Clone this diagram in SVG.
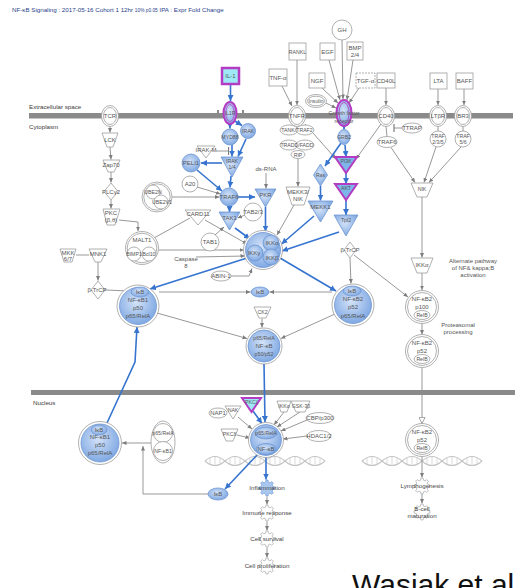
<svg xmlns="http://www.w3.org/2000/svg" width="518" height="588" viewBox="0 0 518 588">
<defs>
<style>
.t{font-family:"Liberation Sans",Arial,sans-serif;font-size:6px;fill:#555;text-anchor:middle}
.s{font-size:5.2px}
.lab{font-family:"Liberation Sans",Arial,sans-serif;font-size:6.2px;fill:#3a3a3a}
.fnt{font-family:"Liberation Sans",Arial,sans-serif;font-size:6.2px;fill:#444;text-anchor:middle}
.w{fill:#fff;stroke:#9d9d9d;stroke-width:.8}
.b{fill:url(#bg);stroke:#6f97d2;stroke-width:.8}
.m{stroke:#b43cc2;stroke-width:2}
.gl{fill:none;stroke:#8c8c8c;stroke-width:.9;marker-end:url(#ag)}
.gn{fill:none;stroke:#8c8c8c;stroke-width:.9}
.bl{fill:none;stroke:#3674cf;stroke-width:1.6;marker-end:url(#ab)}
.fn{fill:#fff;stroke:#a8a8a8;stroke-width:.7}
.fb{fill:#a9c6ef;stroke:#7aa0d8;stroke-width:.7}
.mem{fill:#8a8a8a}
.dna{fill:none;stroke:#c4c4c4;stroke-width:1.1}
</style>
<radialGradient id="bg" cx="45%" cy="40%" r="65%">
<stop offset="0" stop-color="#d3e2f8"/>
<stop offset="1" stop-color="#79a4e1"/>
</radialGradient>
<marker id="ag" viewBox="0 0 6 6" refX="6" refY="3" markerWidth="4.5" markerHeight="4.5" markerUnits="userSpaceOnUse" orient="auto"><path d="M0,0.3L6,3L0,5.7z" fill="#7d7d7d"/></marker>
<marker id="ab" viewBox="0 0 6 6" refX="6" refY="3" markerWidth="6" markerHeight="6" markerUnits="userSpaceOnUse" orient="auto"><path d="M0,0L6,3L0,6z" fill="#3674cf"/></marker>
<marker id="ao" viewBox="0 0 8 8" refX="7.5" refY="4" markerWidth="7" markerHeight="7" markerUnits="userSpaceOnUse" orient="auto"><path d="M0.5,0.5L7.5,4L0.5,7.5z" fill="#fff" stroke="#8c8c8c" stroke-width="0.9"/></marker>
<marker id="tb" viewBox="0 0 2 8" refX="1" refY="4" markerWidth="2" markerHeight="8" markerUnits="userSpaceOnUse" orient="auto"><path d="M1,0V8" stroke="#7d7d7d" stroke-width="1.2"/></marker>
<path id="gear" d="M5.82,-1.45 L7.92,-1.11 7.92,1.11 5.82,1.45 5.14,3.09 6.39,4.81 4.81,6.39 3.09,5.14 1.45,5.82 1.11,7.92 -1.11,7.92 -1.45,5.82 -3.09,5.14 -4.81,6.39 -6.39,4.81 -5.14,3.09 -5.82,1.45 -7.92,1.11 -7.92,-1.11 -5.82,-1.45 -5.14,-3.09 -6.39,-4.81 -4.81,-6.39 -3.09,-5.14 -1.45,-5.82 -1.11,-7.92 1.11,-7.92 1.45,-5.82 3.09,-5.14 4.81,-6.39 6.39,-4.81 5.14,-3.09 Z"/>
<g id="dna" class="dna">
<path d="M0,0 q10,-9 20,0 t20,0 t20,0 t20,0 t20,0 t20,0"/>
<path d="M0,0 q10,9 20,0 t20,0 t20,0 t20,0 t20,0 t20,0"/>
<path d="M5,-3.2v6.4M10,-4.5v9M15,-3.2v6.4M25,-3.2v6.4M30,-4.5v9M35,-3.2v6.4M45,-3.2v6.4M50,-4.5v9M55,-3.2v6.4M65,-3.2v6.4M70,-4.5v9M75,-3.2v6.4M85,-3.2v6.4M90,-4.5v9M95,-3.2v6.4M105,-3.2v6.4M110,-4.5v9M115,-3.2v6.4" stroke-width=".6"/>
</g>
</defs>

<rect width="518" height="588" fill="#fff"/>

<!-- title -->
<text x="12" y="12" font-family="Liberation Sans, Arial, sans-serif" font-size="6.2" fill="#2c3f8c">NF-κB Signaling : 2017-05-16 Cohort 1 12hr <tspan font-size="4.8">10% p0.05</tspan> IPA : Expr Fold Change</text>

<!-- membranes and compartment labels -->
<g id="membranes">
<rect class="mem" x="29" y="113" width="484" height="5.5"/>
<rect class="mem" x="217" y="110" width="2" height="3.5"/>
<rect class="mem" x="242" y="110" width="2" height="3.5"/>
<rect class="mem" x="31" y="390" width="484" height="5"/>
<text class="lab" x="29" y="109">Extracellular space</text>
<text class="lab" x="29" y="129">Cytoplasm</text>
<text class="lab" x="33" y="405">Nucleus</text>
</g>

<!-- DNA helices -->
<use href="#dna" transform="translate(205,461)"/>
<use href="#dna" transform="translate(362,461)"/>

<!-- connectors -->
<g id="connectors">
<!-- ligand to receptor -->
<path class="gl" d="M282,86L292,106"/>
<path class="gl" d="M297,60L297,105"/>
<path class="gl" d="M342,40L343,99"/>
<path class="gl" d="M329,60L340,100"/>
<path class="gl" d="M353,60L347,100"/>
<path class="gl" d="M322,88L338,103"/>
<path class="gl" d="M326,103L336,108"/>
<path class="gl" d="M359,88L349,103"/>
<path class="gl" d="M386,88L386,105"/>
<path class="gl" d="M438,89L438,105"/>
<path class="gl" d="M464,89L464,105"/>
<!-- TCR branch -->
<path class="gl" d="M110,126.5L110,132.5"/>
<path class="gl" d="M110,147L111,159.5"/>
<path class="gl" d="M111,172L111,182.5"/>
<path class="gl" d="M111,200L111,208.5"/>
<path class="gl" d="M119,220L138,222L138,231"/>
<path class="gn" d="M76,255L89,255"/>
<path class="gl" d="M98,262L98,280.5"/>
<path class="gl" d="M105,290L130,291"/>
<!-- TRAF6 / MALT1 region -->
<path class="gl" d="M172,197L219.5,197"/>
<path class="gl" d="M158,250L244,250"/>
<path class="gn" d="M190,218L154,238"/>
<path class="gl" d="M205,220L247,244"/>
<path class="gl" d="M197,187L220.5,194"/>
<path class="gl" d="M245,215L237.5,218"/>
<path class="gl" d="M215,235L224,227"/>
<path class="gl" d="M196,257L245,256"/>
<path class="gl" d="M231,276L249,276L252,268.5"/>
<path class="gl" d="M266,173L266,188.5"/>
<path class="gn" d="M216,151L228.5,151" marker-end="url(#tb)"/>
<!-- TNFR branch -->
<path class="gl" d="M298,159L298,186.5"/>
<path class="gl" d="M294,205L277,235"/>
<path class="gl" d="M305,124L336,159"/>
<!-- CD40 / alternate branch -->
<path class="gl" d="M381,124L356,159"/>
<path class="gn" d="M386,126.5L387,136.5"/>
<path class="gn" d="M402,128L394,128" marker-end="url(#tb)"/>
<path class="gn" d="M438,126.5L438,131"/>
<path class="gn" d="M463,126.5L463,131"/>
<path class="gl" d="M391,147.5L415,182.5"/>
<path class="gl" d="M436,147L424,182.5"/>
<path class="gl" d="M461,147L429,182.5"/>
<path class="gl" d="M422,197L422,257.5"/>
<path class="gl" d="M422,273L422,290"/>
<path class="gl" d="M354,255L408,297"/>
<path class="gl" d="M350,258L351,283.5"/>
<path class="gl" d="M422,323L422,334.5"/>
<path class="gn" d="M422,367.5L422,423.5" marker-end="url(#ao)"/>
<path class="gl" d="M422,456.5L422,477.5"/>
<path class="gl" d="M422,494L422,503.5"/>
<!-- cytoplasmic NF-kB complexes -->
<path class="gl" d="M159,292L250.5,292"/>
<path class="gl" d="M332,292L269.5,292"/>
<path class="gl" d="M157,313L247,338.5"/>
<path class="gl" d="M335,314L281,338.5"/>
<path class="gl" d="M262,318.5L262,327.5"/>
<!-- nuclear -->
<path class="gl" d="M238,417L252,429"/>
<path class="gl" d="M237,435L250,438"/>
<path class="gl" d="M284,412L274,425"/>
<path class="gl" d="M300,412L277,427"/>
<path class="gl" d="M307,420L281,431"/>
<path class="gl" d="M307,436L283,439"/>
<path class="gl" d="M267,496.5L267,504.5"/>
<path class="gl" d="M267,521.5L267,530.5"/>
<path class="gl" d="M267,547.5L267,557.5"/>
<path class="gl" d="M208,494L143,494L143,446"/>
<path class="gl" d="M151,443L122,443"/>
<!-- blue: IL-1 signalling -->
<path class="bl" d="M230.5,84L230.5,101"/>
<path class="bl" d="M230,124L230,128.5"/>
<path class="bl" d="M235,121L242,125.5"/>
<path class="bl" d="M232,145L232,156.5"/>
<path class="bl" d="M246,139L238,156.5"/>
<path class="bl" d="M222,163L201,163"/>
<path class="bl" d="M197,170L222,191"/>
<path class="bl" d="M231,176L230,187.5"/>
<path class="bl" d="M238,197L255,197"/>
<path class="bl" d="M229.5,206L229.5,212"/>
<path class="bl" d="M235,228L250,239"/>
<path class="bl" d="M265.5,207L265.5,231.5"/>
<!-- blue: growth factor signalling -->
<path class="bl" d="M344,126L344,129.5"/>
<path class="bl" d="M341,143L325,166"/>
<path class="bl" d="M320.5,186L320.5,200.5"/>
<path class="bl" d="M314,216L281.5,244"/>
<path class="bl" d="M345,145L346,157"/>
<path class="bl" d="M346,173L346,184"/>
<path class="bl" d="M346,200L346,215"/>
<path class="bl" d="M339,232L282,251"/>
<!-- blue: IKK to NF-kB -->
<path class="bl" d="M247,258L150,289"/>
<path class="bl" d="M280,258L336,291"/>
<path class="bl" d="M264,364L265,422"/>
<path class="bl" d="M253,411L262,423.5"/>
<path class="bl" d="M258,454L225,489"/>
<path class="bl" d="M266,456L266,479.5"/>
<path class="bl" d="M107,423L135,362L137,327"/>
</g>

<!-- extracellular ligands -->
<g id="IL-1"><rect x="222" y="68" width="17" height="16" fill="#9fe9f6" stroke="#b43cc2" stroke-width="2.5"/><text class="t" x="230.5" y="78">IL-1</text></g>
<g id="TNF-a"><rect class="w" x="269" y="69" width="18" height="17"/><text class="t" x="278" y="79.5">TNF-α</text></g>
<g id="RANKL"><rect class="w" x="289" y="43" width="17" height="17"/><text class="t s" x="297.5" y="53.5">RANKL</text></g>
<g id="EGF"><rect class="w" x="320" y="43" width="15" height="17"/><text class="t" x="327.5" y="53.5">EGF</text></g>
<g id="NGF"><rect class="w" x="309" y="73" width="16" height="15"/><text class="t" x="317" y="82.5">NGF</text></g>
<g id="GH"><circle class="w" cx="342" cy="30" r="10"/><text class="t" x="342" y="32">GH</text></g>
<g id="BMP"><rect class="w" x="347" y="42" width="16" height="18"/><text class="t" x="355" y="50">BMP</text><text class="t" x="355" y="57">2/4</text></g>
<g id="TGF-a"><rect class="w" x="356" y="73" width="19" height="15" stroke-dasharray="2 1"/><text class="t" x="365.5" y="82.5">TGF-α</text></g>
<g id="CD40L"><rect class="w" x="377" y="73" width="18" height="15"/><text class="t" x="386" y="82.5">CD40L</text></g>
<g id="LTA"><rect class="w" x="430" y="73" width="17" height="16"/><text class="t" x="438.5" y="83">LTA</text></g>
<g id="BAFF"><rect class="w" x="456" y="73" width="17" height="16"/><text class="t" x="464.5" y="83">BAFF</text></g>
<g id="Insulin"><ellipse class="w" cx="316" cy="101" rx="10.5" ry="6.5"/><ellipse class="w" cx="316" cy="101" rx="8.5" ry="4.8"/><text class="t s" x="316" y="103">Insulin</text></g>

<!-- membrane receptors -->
<g id="TCR"><ellipse class="w" cx="110" cy="116" rx="8.5" ry="10.5"/><ellipse class="w" cx="110" cy="116" rx="6.5" ry="8.5"/><text class="t" x="110" y="118">TCR</text></g>
<g id="IL1R"><ellipse class="b m" cx="230" cy="113" rx="6.5" ry="11"/><ellipse fill="none" stroke="#b43cc2" stroke-width=".8" cx="230" cy="113" rx="4.2" ry="8.5"/><text class="t s" x="230" y="115">IL1R</text></g>
<g id="TNFR"><ellipse class="w" cx="297" cy="116" rx="8.5" ry="10.5"/><ellipse class="w" cx="297" cy="116" rx="6.5" ry="8.5"/><text class="t" x="297" y="118">TNFR</text></g>
<g id="GFR"><ellipse class="b m" cx="344" cy="113" rx="7.5" ry="13"/><ellipse fill="none" stroke="#b43cc2" stroke-width=".8" cx="344" cy="113" rx="5" ry="10.5"/><text class="t s" x="344" y="115">Growth factor</text><text class="t s" x="344" y="123">receptor</text></g>
<g id="CD40"><ellipse class="w" cx="386" cy="116" rx="8.5" ry="10.5"/><ellipse class="w" cx="386" cy="116" rx="6.5" ry="8.5"/><text class="t" x="386" y="118">CD40</text></g>
<g id="LTbR"><ellipse class="w" cx="438" cy="116" rx="8.5" ry="10.5"/><ellipse class="w" cx="438" cy="116" rx="6.5" ry="8.5"/><text class="t" x="438" y="118">LTβR</text></g>
<g id="BR3"><ellipse class="w" cx="463" cy="116" rx="8.5" ry="10.5"/><ellipse class="w" cx="463" cy="116" rx="6.5" ry="8.5"/><text class="t" x="463" y="118">BR3</text></g>

<!-- TCR branch -->
<g id="LCK"><polygon class="w" points="102,133 118,133 113,147 107,147"/><text class="t" x="110" y="142">LCK</text></g>
<g id="Zap70"><polygon class="w" points="103,160 120,160 114,172 108,172"/><text class="t" x="111" y="167">Zap70</text></g>
<g id="PLCg2"><polygon class="w" points="111,183 118,191.5 111,200 104,191.5"/><text class="t" x="111" y="193.5">PLCγ2</text></g>
<g id="PKCbt"><polygon class="w" points="103,209 120,209 115,225 107,225"/><text class="t" x="111" y="215">PKC</text><text class="t" x="111" y="222">(β,θ)</text></g>
<g id="MALT1"><circle class="w" cx="142" cy="248" r="16.5"/><circle class="w" cx="142" cy="248" r="14.8"/><text class="t" x="142" y="242">MALT1</text><circle class="w" cx="134" cy="254" r="7"/><circle class="w" cx="149" cy="254" r="7"/><text class="t s" x="134" y="256">BIMP1</text><text class="t s" x="149" y="256">Bcl10</text></g>
<g id="UBE2N"><circle class="w" cx="157" cy="197" r="15"/><circle class="w" cx="157" cy="197" r="13.2"/><circle class="w" cx="153" cy="192" r="7"/><circle class="w" cx="161" cy="202" r="7"/><text class="t s" x="153" y="193.5">UBE2N</text><text class="t s" x="162" y="203.5">UBE2V1</text></g>
<g id="MKK"><polygon class="w" points="60,249 76,249 72,262 64,262"/><text class="t" x="68" y="255">MKK</text><text class="t" x="68" y="261">6/7</text></g>
<g id="MNK1"><polygon class="w" points="89,249 107,249 101,262 95,262"/><text class="t" x="98" y="256">MNK1</text></g>
<g id="bTrCP-L"><polygon class="w" points="98,281 105,290 98,299 91,290"/><text class="t" x="97" y="292">β-TrCP</text></g>

<!-- IL-1 branch -->
<g id="MYD88"><circle class="b" cx="230" cy="137" r="8"/><text class="t s" x="230" y="139">MYD88</text></g>
<g id="IRAK"><circle class="b" cx="248" cy="131" r="7.5"/><text class="t s" x="248" y="133">IRAK</text></g>
<g id="IRAK-M"><polygon class="w" points="197,146 215,146 206,158"/><text class="t" x="206" y="152">IRAK-M</text></g>
<g id="PELI1"><circle class="b" cx="191" cy="163" r="9"/><text class="t" x="191" y="165">PELI1</text></g>
<g id="IRAK14"><polygon class="b" points="221,157 243,157 232,177"/><text class="t s" x="232" y="163">IRAK</text><text class="t s" x="232" y="169">1/4</text></g>
<g id="A20"><circle class="w" cx="190" cy="184" r="8"/><text class="t" x="190" y="186">A20</text></g>
<g id="TRAF6"><circle class="b" cx="229" cy="197" r="9"/><text class="t" x="229" y="199">TRAF6</text></g>
<g id="PKR"><polygon class="b" points="255,189 276,189 265.5,207"/><text class="t" x="265.5" y="197">PKR</text></g>
<g id="ds-RNA"><text class="t" x="266" y="171">ds-RNA</text></g>
<g id="TAB23"><circle class="w" cx="253" cy="212" r="9"/><text class="t" x="253" y="214">TAB2/3</text></g>
<g id="TAK1"><polygon class="b" points="219,212 240,212 229.5,230"/><text class="t" x="229.5" y="219.5">TAK1</text></g>
<g id="CARD11"><polygon class="w" points="185,210 211,210 198,225"/><text class="t" x="198" y="215.5">CARD11</text></g>
<g id="TAB1"><circle class="w" cx="210" cy="242" r="9"/><text class="t" x="210" y="244">TAB1</text></g>
<g id="Caspase8"><text class="t" x="186" y="261">Caspase</text><text class="t" x="186" y="267.5">8</text></g>
<g id="ABIN-1"><ellipse class="w" cx="221" cy="276" rx="10" ry="5"/><text class="t" x="221" y="278">ABIN-1</text></g>
<g id="IKK"><circle class="w" cx="263" cy="250" r="19.5"/><circle class="b" cx="263" cy="250" r="17.5"/><circle class="b" cx="271" cy="243" r="8"/><circle class="b" cx="255" cy="253" r="8"/><circle class="b" cx="271" cy="257" r="8"/><text class="t" x="272" y="245">IKKα</text><text class="t" x="254" y="255">IKKγ</text><text class="t" x="272" y="259.5">IKKβ</text></g>

<!-- TNFR branch -->
<g id="TANK-TRAF2"><ellipse class="w" cx="289" cy="130" rx="9" ry="5"/><ellipse class="w" cx="305" cy="130" rx="9" ry="5"/><text class="t s" x="297" y="132">TANK/TRAF2</text></g>
<g id="TRADD-FADD"><ellipse class="w" cx="289" cy="145" rx="9" ry="5"/><ellipse class="w" cx="305" cy="145" rx="9" ry="5"/><text class="t s" x="297" y="147">TRADD/FADD</text></g>
<g id="RIP"><ellipse class="w" cx="298" cy="154.5" rx="7" ry="4"/><text class="t s" x="298" y="156.5">RIP</text></g>
<g id="MEKK3-NIK"><polygon class="w" points="286,187 310,187 304,205 292,205"/><text class="t" x="298" y="194">MEKK3/</text><text class="t" x="298" y="201">NIK</text></g>

<!-- growth factor branch -->
<g id="GRB2"><ellipse class="b" cx="344" cy="137" rx="6" ry="7.5"/><text class="t s" x="344" y="139">GRB2</text></g>
<g id="Ras"><polygon class="b" points="320.5,164 327.5,175 320.5,186 313.5,175"/><text class="t s" x="320.5" y="177">Ras</text></g>
<g id="MEKK1"><polygon class="b" points="308,201 333,201 320.5,222"/><text class="t" x="320.5" y="209">MEKK1</text></g>
<g id="PI3K"><polygon fill="#7fb6ea" stroke="#b43cc2" stroke-width="2" points="335,157 357,157 346,173"/><text class="t s" x="346" y="163">PI3K</text></g>
<g id="AKT"><polygon fill="#7fb6ea" stroke="#b43cc2" stroke-width="2" points="335,184 357,184 346,200"/><text class="t s" x="346" y="190">AKT</text></g>
<g id="Tpl2"><polygon class="b" points="334,215 358,215 346,236"/><text class="t s" x="346" y="222">Tpl2</text></g>
<g id="bTrCP-R"><polygon class="w" points="350,242 356,250 350,258 344,250"/><text class="t" x="350" y="252">β-TrCP</text></g>

<!-- CD40 / alternate pathway -->
<g id="TTRAP"><ellipse class="w" cx="412" cy="128" rx="10" ry="5"/><text class="t" x="412" y="130">TTRAP</text></g>
<g id="TRAF6-R"><ellipse class="w" cx="387" cy="142" rx="10" ry="5.5"/><text class="t" x="387" y="144">TRAF6</text></g>
<g id="TRAF235"><ellipse class="w" cx="438" cy="139" rx="8" ry="8"/><text class="t s" x="438" y="137.5">TRAF</text><text class="t s" x="438" y="143.5">2/3/5</text></g>
<g id="TRAF56"><ellipse class="w" cx="463" cy="139" rx="8" ry="8"/><text class="t s" x="463" y="137.5">TRAF</text><text class="t s" x="463" y="143.5">5/6</text></g>
<g id="NIK"><polygon class="w" points="411,183 433,183 427,197 417,197"/><text class="t s" x="422" y="190.5">NIK</text></g>
<g id="IKKa-R"><polygon class="w" points="411,258 433,258 427,273 417,273"/><text class="t" x="422" y="267">IKKα</text></g>
<g id="alt-note"><text class="t" x="473" y="263">Alternate pathway</text><text class="t" x="473" y="270">of NF&amp; kappa;B</text><text class="t" x="473" y="277">activation</text></g>
<g id="p100"><circle class="w" cx="422" cy="307" r="16.5"/><circle class="w" cx="422" cy="307" r="14.5"/><text class="t" x="422" y="301">NF-κB2</text><text class="t" x="422" y="308.5">p100</text><ellipse class="w" cx="422" cy="315" rx="8" ry="4.5"/><text class="t s" x="422" y="317">RelB</text></g>
<g id="p52-cyt"><circle class="w" cx="422" cy="351" r="16.5"/><circle class="w" cx="422" cy="351" r="14.5"/><text class="t" x="422" y="345">NF-κB2</text><text class="t" x="422" y="352.5">p52</text><ellipse class="w" cx="422" cy="359" rx="8" ry="4.5"/><text class="t s" x="422" y="361">RelB</text></g>
<g id="proteasome-note"><text class="t" x="458" y="327">Proteasomal</text><text class="t" x="458" y="334">processing</text></g>

<!-- cytoplasmic NF-kB complexes -->
<g id="NFkB1-cyt"><circle class="w" cx="138" cy="306" r="21"/><circle class="b" cx="138" cy="306" r="18.5"/><ellipse class="b" cx="140" cy="292" rx="9" ry="5"/><text class="t" x="140" y="294">IκB</text><text class="t" x="138" y="302">NF-κB1</text><text class="t" x="138" y="310">p50</text><text class="t" x="138" y="318">p65/RelA</text></g>
<g id="NFkB2-cyt"><circle class="w" cx="353" cy="305" r="21"/><circle class="b" cx="353" cy="305" r="18.5"/><ellipse class="b" cx="352" cy="291" rx="9" ry="5"/><text class="t" x="352" y="293">IκB</text><text class="t" x="353" y="301">NF-κB2</text><text class="t" x="353" y="309">p52</text><text class="t" x="353" y="318">p65/RelA</text></g>
<g id="IkB-cyt"><ellipse class="b" cx="260" cy="292" rx="9" ry="5"/><text class="t" x="260" y="294">IκB</text></g>
<g id="CK2"><polygon class="w" points="254,307 271,307 266,318 259,318"/><text class="t s" x="262.5" y="313.5">CK2</text></g>
<g id="p65-p50p52"><circle class="w" cx="264" cy="346" r="18"/><circle class="b" cx="264" cy="346" r="16"/><text class="t s" x="264" y="339.5">p65/RelA</text><text class="t" x="264" y="348">NF-κB</text><text class="t s" x="264" y="356">p50/p52</text></g>

<!-- nucleus -->
<g id="PKCz"><polygon fill="#9fe9f6" stroke="#b43cc2" stroke-width="2" points="242,398 261,398 251.5,412"/><text class="t s" x="251.5" y="404">PKCζ</text></g>
<g id="NAP1"><ellipse class="w" cx="218" cy="413" rx="9" ry="5"/><text class="t" x="218" y="415">NAP1</text></g>
<g id="NAK"><polygon class="w" points="225,406 241,406 233,419"/><text class="t s" x="233" y="412">NAK</text></g>
<g id="IKKa-N"><polygon class="w" points="277,401 291,401 287,412 281,412"/><text class="t s" x="284" y="408">IKKα</text></g>
<g id="GSK3b"><polygon class="w" points="291,401 310,401 305,412 296,412"/><text class="t s" x="301" y="408">GSK-3β</text></g>
<g id="CBP"><ellipse class="w" cx="320" cy="418" rx="14" ry="5.5"/><text class="t" x="320" y="420">CBP/p300</text></g>
<g id="HDAC"><ellipse class="w" cx="319" cy="436" rx="12" ry="5.5"/><text class="t" x="319" y="438">HDAC1/2</text></g>
<g id="PKCd"><polygon class="w" points="221,429 238,429 233,441 226,441"/><text class="t s" x="229.5" y="436">PKCδ</text></g>
<g id="NFkB-nuc"><circle class="w" cx="266" cy="440" r="17.5"/><circle class="b" cx="266" cy="440" r="15.5"/><ellipse class="b" cx="266" cy="433" rx="11" ry="6"/><ellipse class="b" cx="266" cy="449" rx="10" ry="5.5"/><text class="t s" x="266" y="435">p65/RelA</text><text class="t" x="266" y="451">NF-κB</text></g>
<g id="NFkB1-nuc"><circle class="w" cx="100" cy="443" r="21.5"/><circle class="b" cx="100" cy="443" r="19"/><ellipse class="b" cx="99" cy="430" rx="8" ry="5"/><text class="t" x="99" y="432">IκB</text><text class="t" x="100" y="439">NF-κB1</text><text class="t" x="100" y="447">p50</text><text class="t" x="100" y="455">p65/RelA</text></g>
<g id="p65-NFkB1"><ellipse class="w" cx="163" cy="442" rx="12" ry="21"/><circle class="w" cx="163" cy="433" r="9.5"/><circle class="w" cx="163" cy="451" r="9.5"/><text class="t s" x="163" y="435">p65/RelA</text><text class="t s" x="163" y="453">NF-κB1</text></g>
<g id="p52-nuc"><circle class="w" cx="422" cy="440" r="16.5"/><circle class="w" cx="422" cy="440" r="14.5"/><text class="t" x="422" y="434">NF-κB2</text><text class="t" x="422" y="441.5">p52</text><ellipse class="w" cx="422" cy="448" rx="8" ry="4.5"/><text class="t s" x="422" y="450">RelB</text></g>
<g id="IkB-nuc"><ellipse class="b" cx="218" cy="494" rx="10" ry="6"/><text class="t" x="218" y="496">IκB</text></g>

<!-- cellular functions -->
<g id="Inflammation"><use href="#gear" class="fb" transform="translate(267,488)"/><text class="fnt" x="267" y="490">Inflammation</text></g>
<g id="Immune"><use href="#gear" class="fn" transform="translate(267,513)"/><text class="fnt" x="267" y="515">Immune response</text></g>
<g id="Survival"><use href="#gear" class="fn" transform="translate(267,539)"/><text class="fnt" x="267" y="541">Cell survival</text></g>
<g id="Proliferation"><use href="#gear" class="fn" transform="translate(267,566)"/><text class="fnt" x="267" y="568">Cell proliferation</text></g>
<g id="Lymphogenesis"><use href="#gear" class="fn" transform="translate(422,486)"/><text class="fnt" x="422" y="488">Lymphogenesis</text></g>
<g id="Bcell"><use href="#gear" class="fn" transform="translate(422,512)"/><text class="fnt" x="422" y="510.5">B-cell</text><text class="fnt" x="422" y="517.5">maturation</text></g>

<text x="352" y="595" font-family="Liberation Sans, Arial, sans-serif" font-size="30" fill="#111">Wasiak et al</text>
</svg>
